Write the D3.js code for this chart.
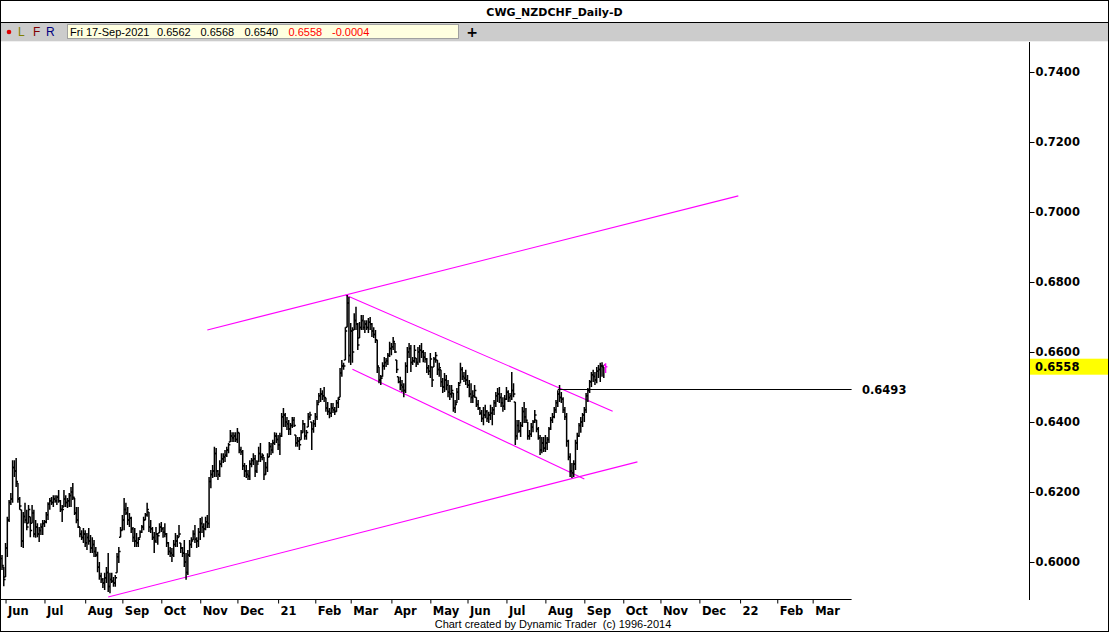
<!DOCTYPE html>
<html><head><meta charset="utf-8">
<script src="https://cdn.jsdelivr.net/npm/d3@7"></script>
<style>
body{margin:0;background:#fff;}
svg{display:block;}
text{white-space:pre;}
</style>
</head><body>
<svg id="c" width="1109" height="632"></svg>
<script>
// ---------------- DATA ----------------
const title = "CWG_NZDCHF_Daily-D";
const firstDate = "2020-05-28";   // first daily bar
const axisEndDate = "2022-03-31"; // end of time axis (future space)
// Prices in units of 0.0001 (pips)
const high = [
6020,5986,6054,6129,6177,6197,6291,6291,6297,6226,
6186,6149,6143,6169,6149,6163,6129,6163,6149,6120,
6111,6100,6111,6120,6120,6143,6171,6183,6186,6191,
6191,6191,6206,6177,6163,6206,6191,6183,6197,6214,
6226,6183,6157,6157,6100,6091,6097,6091,6083,6097,
6077,6071,6063,6043,6029,6000,5969,5954,5969,5986,
6026,5969,5969,5957,5963,6026,6043,6100,6134,6183,
6169,6157,6140,6129,6100,6097,6083,6071,6091,6106,
6129,6140,6169,6143,6120,6100,6086,6100,6083,6111,
6114,6100,6111,6083,6057,6043,6040,6063,6083,6077,
6106,6054,6043,6063,6026,6034,6063,6071,6091,6106,
6071,6097,6126,6129,6111,6129,6134,6243,6263,6277,
6329,6326,6263,6291,6311,6311,6320,6329,6340,6377,
6371,6371,6371,6383,6369,6329,6320,6283,6277,6263,
6291,6297,6311,6306,6291,6329,6340,6311,6300,6286,
6311,6343,6340,6349,6371,6369,6363,6369,6426,6440,
6426,6414,6406,6397,6414,6414,6363,6357,6357,6377,
6406,6397,6377,6426,6429,6400,6406,6426,6463,6483,
6497,6491,6500,6469,6457,6440,6454,6454,6443,6463,
6471,6554,6577,6569,6671,6763,6757,6683,6671,6711,
6729,6683,6686,6706,6706,6691,6691,6697,6700,6683,
6671,6663,6634,6557,6534,6571,6586,6583,6597,6629,
6626,6643,6626,6577,6529,6529,6520,6511,6571,6614,
6626,6620,6586,6620,6583,6614,6620,6626,6606,6600,
6583,6563,6597,6557,6586,6600,6577,6569,6549,6526,
6540,6534,6520,6506,6506,6483,6463,6497,6514,6569,
6557,6543,6549,6534,6520,6511,6491,6506,6471,6463,
6443,6434,6443,6449,6434,6429,6449,6443,6463,6486,
6497,6500,6483,6471,6477,6500,6491,6483,6543,6511,
6457,6406,6406,6400,6443,6457,6440,6400,6377,6397,
6406,6434,6406,6386,6363,6357,6357,6363,6357,6386,
6414,6426,6443,6463,6491,6506,6486,6471,6443,6426,
6349,6311,6283,6291,6349,6369,6397,6414,6426,6443,
6483,6497,6520,6543,6549,6543,6557,6563,6569,6571,
6557,6568];
const low = [
5977,5931,5957,6014,6114,6163,6169,6243,6214,6169,
6149,6043,6040,6111,6091,6111,6071,6111,6071,6069,
6071,6057,6077,6077,6100,6111,6120,6149,6163,6157,
6169,6163,6169,6143,6114,6157,6157,6154,6157,6157,
6177,6134,6111,6097,6071,6063,6054,6043,6034,6049,
6026,6026,6014,6014,5971,5949,5940,5926,5920,5940,
5914,5911,5940,5929,5929,5969,5997,6071,6091,6091,
6134,6106,6100,6083,6057,6043,6043,6043,6069,6083,
6091,6120,6129,6086,6083,6063,6026,6054,6049,6083,
6086,6069,6071,6043,6020,6014,6000,6014,6043,6043,
6071,6026,6014,5986,5949,5963,6014,6040,6063,6054,
6040,6043,6063,6083,6071,6091,6097,6097,6211,6240,
6243,6243,6234,6243,6271,6283,6286,6300,6311,6343,
6343,6343,6343,6340,6311,6306,6263,6243,6240,6234,
6234,6271,6277,6243,6254,6286,6286,6291,6234,6249,
6257,6300,6306,6311,6334,6340,6320,6306,6357,6386,
6386,6377,6363,6363,6383,6386,6329,6329,6320,6349,
6369,6349,6349,6386,6406,6320,6369,6386,6406,6454,
6457,6463,6457,6429,6420,6411,6414,6426,6420,6429,
6440,6471,6529,6549,6577,6671,6569,6563,6569,6663,
6663,6606,6640,6663,6663,6654,6663,6654,6663,6643,
6640,6626,6540,6511,6506,6529,6549,6557,6563,6586,
6591,6606,6597,6540,6511,6491,6486,6471,6483,6540,
6583,6543,6563,6569,6557,6563,6569,6583,6571,6569,
6540,6534,6526,6500,6557,6569,6534,6529,6500,6483,
6486,6491,6471,6463,6469,6429,6426,6454,6463,6511,
6520,6514,6506,6497,6471,6454,6454,6469,6443,6434,
6420,6400,6391,6411,6400,6397,6406,6391,6420,6443,
6457,6454,6443,6429,6434,6463,6457,6457,6463,6471,
6334,6349,6369,6357,6386,6397,6397,6349,6349,6357,
6371,6397,6371,6349,6306,6311,6314,6314,6320,6340,
6377,6397,6411,6426,6443,6457,6454,6426,6406,6329,
6291,6243,6240,6243,6263,6320,6357,6369,6386,6400,
6426,6457,6483,6500,6514,6506,6511,6526,6514,6529,
6526,6540];
const open = [
6010,5986,5957,6040,6120,6170,6180,6270,6260,6226,
6180,6149,6060,6130,6120,6111,6129,6111,6140,6080,
6100,6080,6090,6100,6110,6115,6135,6165,6175,6170,
6180,6175,6185,6175,6150,6157,6180,6170,6175,6190,
6200,6183,6140,6120,6100,6080,6070,6080,6055,6070,
6060,6040,6050,6030,6020,5985,5960,5950,5940,5955,
5970,5930,5950,5945,5940,5969,6015,6071,6091,6120,
6150,6140,6120,6125,6095,6070,6060,6055,6069,6085,
6100,6120,6135,6143,6100,6095,6070,6060,6080,6083,
6100,6095,6085,6080,6055,6030,6025,6020,6050,6060,
6071,6054,6040,6025,6000,5970,6020,6050,6063,6080,
6065,6060,6085,6110,6100,6095,6115,6110,6230,6250,
6260,6310,6260,6250,6280,6295,6300,6305,6320,6343,
6360,6355,6360,6350,6369,6320,6315,6275,6260,6250,
6245,6280,6290,6295,6260,6286,6310,6300,6300,6250,
6270,6300,6330,6320,6340,6360,6350,6335,6360,6415,
6420,6400,6395,6380,6390,6405,6363,6340,6345,6349,
6370,6395,6360,6386,6415,6400,6380,6395,6415,6454,
6475,6480,6475,6469,6440,6430,6425,6440,6435,6430,
6455,6471,6540,6560,6577,6671,6740,6590,6660,6663,
6690,6680,6640,6670,6690,6670,6680,6670,6685,6680,
6660,6650,6634,6557,6520,6529,6560,6570,6575,6590,
6610,6615,6626,6577,6529,6515,6505,6500,6490,6560,
6600,6610,6570,6575,6583,6570,6600,6605,6600,6585,
6580,6555,6545,6557,6557,6580,6577,6550,6549,6515,
6500,6520,6505,6485,6480,6483,6440,6454,6485,6511,
6550,6530,6525,6520,6505,6480,6470,6475,6471,6450,
6440,6425,6410,6420,6430,6410,6420,6425,6435,6455,
6475,6480,6470,6455,6445,6465,6485,6470,6475,6490,
6457,6360,6390,6375,6390,6430,6415,6400,6360,6365,
6385,6400,6406,6380,6355,6320,6340,6325,6340,6350,
6380,6405,6415,6435,6455,6480,6470,6465,6435,6415,
6345,6300,6260,6255,6280,6340,6360,6390,6400,6420,
6435,6475,6490,6515,6535,6530,6520,6545,6550,6560,
6557,6562];
const close = [
5990,5950,6040,6120,6170,6180,6270,6260,6230,6180,
6160,6060,6130,6120,6100,6150,6090,6140,6080,6100,
6080,6090,6100,6110,6115,6135,6165,6175,6170,6180,
6175,6185,6175,6150,6150,6180,6170,6175,6190,6200,
6185,6140,6120,6100,6080,6070,6080,6055,6070,6060,
6040,6050,6030,6020,5985,5960,5950,5940,5955,5970,
5930,5950,5945,5940,5955,6015,6030,6090,6120,6150,
6140,6120,6125,6095,6070,6060,6055,6065,6085,6100,
6120,6135,6150,6100,6095,6070,6060,6080,6075,6100,
6095,6085,6080,6055,6030,6025,6020,6050,6060,6070,
6080,6040,6025,6000,5970,6020,6050,6060,6080,6065,
6060,6085,6110,6100,6095,6115,6110,6230,6250,6260,
6310,6260,6250,6280,6295,6300,6305,6320,6335,6360,
6355,6360,6350,6370,6320,6315,6275,6260,6250,6245,
6280,6290,6295,6260,6280,6310,6300,6305,6250,6270,
6300,6330,6320,6340,6360,6350,6335,6360,6415,6420,
6400,6395,6380,6390,6405,6390,6340,6345,6335,6370,
6395,6360,6370,6415,6420,6380,6395,6415,6450,6475,
6480,6475,6470,6440,6430,6425,6440,6435,6430,6455,
6465,6540,6560,6560,6660,6740,6590,6660,6600,6690,
6680,6620,6670,6690,6670,6680,6670,6685,6680,6660,
6650,6635,6560,6520,6525,6560,6570,6575,6590,6610,
6615,6630,6600,6550,6515,6505,6500,6490,6560,6600,
6610,6570,6575,6605,6570,6600,6605,6600,6585,6580,
6555,6545,6580,6520,6580,6590,6550,6555,6515,6500,
6520,6505,6485,6480,6490,6440,6450,6485,6505,6550,
6530,6525,6520,6505,6480,6470,6475,6490,6450,6440,
6425,6410,6420,6430,6410,6420,6425,6435,6455,6475,
6480,6470,6455,6445,6465,6485,6470,6475,6490,6480,
6360,6390,6375,6390,6430,6415,6405,6360,6365,6385,
6400,6420,6380,6355,6320,6340,6325,6340,6350,6380,
6405,6415,6435,6455,6480,6470,6465,6435,6415,6345,
6300,6260,6255,6280,6340,6360,6390,6400,6420,6435,
6475,6490,6515,6535,6530,6520,6545,6550,6560,6560,
6562,6558];

const priceTicks = [0.60, 0.62, 0.64, 0.66, 0.68, 0.70, 0.72, 0.74];
const monthLabels = ["Jun","Jul","Aug","Sep","Oct","Nov","Dec","21","Feb","Mar","Apr","May",
                     "Jun","Jul","Aug","Sep","Oct","Nov","Dec","22","Feb","Mar"];
const quoteDate = "Fri 17-Sep-2021";
const quoteValues = ["0.6562","0.6568","0.6540","0.6558","-0.0004"];
const lastPrice = 0.6558;
// trendlines: [startDate, startPrice, endDate, endPrice]
const trendLines = [
  ["2020-11-06", 0.6663, "2021-12-31", 0.7046],
  ["2020-08-20", 0.5900, "2021-10-13", 0.6286],
  ["2021-02-24", 0.6763, "2021-09-23", 0.6431],
  ["2021-03-02", 0.6551, "2021-09-01", 0.6237]
];
const levelLine = {start: "2021-08-11", price: 0.6493, label: "0.6493"};
const footer = "Chart created by Dynamic Trader  (c) 1996-2014";

// ---------------- CHART ----------------
const W = 1109, H = 632;
const svg = d3.select("#c");
const bold = "DejaVu Sans";
const plain = "Liberation Sans, Arial, sans-serif";

// calendar of weekdays
const parse = d3.utcParse("%Y-%m-%d");
const fmt = d3.utcFormat("%Y-%m-%d");
const days = d3.utcDay.range(parse(firstDate), d3.utcDay.offset(parse(axisEndDate), 1))
  .filter(d => d.getUTCDay() !== 0 && d.getUTCDay() !== 6);
const idxOf = new Map(days.map((d, i) => [fmt(d), i]));

const x = d3.scaleLinear().domain([0, days.length - 1]).range([2, 2 + (days.length - 1) * 1.77]);
const y = d3.scaleLinear().domain([0.60, 0.74]).range([562, 72]);
const P = v => v / 10000;

// background + frame
svg.append("rect").attr("width", W).attr("height", H).attr("fill", "#fff");
// toolbar
svg.append("rect").attr("x", 0).attr("y", 23).attr("width", W).attr("height", 18).attr("fill", "#cccccc");
svg.append("line").attr("x1", 0).attr("x2", W).attr("y1", 41.5).attr("y2", 41.5).attr("stroke", "#f0f0f0");
svg.append("rect").attr("x", 67.5).attr("y", 24.5).attr("width", 391).attr("height", 14)
  .attr("fill", "#ffffe0").attr("stroke", "#a0a0a0");
svg.append("line").attr("x1", 0).attr("x2", W).attr("y1", 22.5).attr("y2", 22.5).attr("stroke", "#000");

svg.append("text").attr("x", W / 2).attr("y", 16).attr("text-anchor", "middle")
  .attr("font-family", bold).attr("font-weight", "bold").attr("font-size", 11).text(title);

svg.append("circle").attr("cx", 9).attr("cy", 32).attr("r", 2.3).attr("fill", "#e00000");
[["L", 18, "#808000"], ["F", 33, "#800000"], ["R", 46, "#000080"]].forEach(([t, xx, c]) =>
  svg.append("text").attr("x", xx).attr("y", 36).attr("font-family", plain).attr("font-size", 12)
    .attr("fill", c).text(t));
const qx = [157, 200.5, 244.5, 288.5, 332];
svg.append("text").attr("x", 70).attr("y", 35.5).attr("font-family", plain).attr("font-size", 11).text(quoteDate);
quoteValues.forEach((v, i) => svg.append("text").attr("x", qx[i]).attr("y", 35.5)
  .attr("font-family", plain).attr("font-size", 11).attr("fill", i >= 3 ? "#ff0000" : "#000").text(v));
svg.append("text").attr("x", 472).attr("y", 37).attr("text-anchor", "middle")
  .attr("font-family", bold).attr("font-weight", "bold").attr("font-size", 14).text("+");

// panel separators
svg.append("line").attr("x1", 1029.5).attr("x2", 1029.5).attr("y1", 42).attr("y2", 600).attr("stroke", "#000");
svg.append("rect").attr("x", 0.5).attr("y", 0.5).attr("width", W - 1).attr("height", H - 1)
  .attr("fill", "none").attr("stroke", "#000");

// clip for plot
svg.append("clipPath").attr("id", "pc").append("rect").attr("x", 1).attr("y", 42).attr("width", 1028).attr("height", 557);
const plot = svg.append("g").attr("clip-path", "url(#pc)");

// trendlines
plot.selectAll("line.tl").data(trendLines).join("line").attr("class", "tl")
  .attr("x1", d => x(idxOf.get(d[0]))).attr("y1", d => y(d[1]))
  .attr("x2", d => x(idxOf.get(d[2]))).attr("y2", d => y(d[3]))
  .attr("stroke", "#ff00ff").attr("stroke-width", 1.1);

// level line
plot.append("line").attr("x1", x(idxOf.get(levelLine.start))).attr("x2", x(days.length - 1))
  .attr("y1", Math.round(y(levelLine.price)) + 0.5).attr("y2", Math.round(y(levelLine.price)) + 0.5)
  .attr("stroke", "#000");
svg.append("text").attr("x", 862).attr("y", y(levelLine.price) + 4.5)
  .attr("font-family", bold).attr("font-weight", "bold").attr("font-size", 11.5).text(levelLine.label);

// OHLC bars
const n = high.length;
const bars = d3.range(n);
plot.selectAll("path.bar").data(bars).join("path").attr("class", "bar")
  .attr("d", i => {
    const xi = x(i);
    return `M${xi},${y(P(high[i]))}V${y(P(low[i]))}` +
      `M${xi - 1.6},${y(P(open[i]))}H${xi}` +
      `M${xi},${y(P(close[i]))}H${xi + 1.8}`;
  })
  .attr("fill", "none").attr("stroke", i => i === n - 1 ? "#ff00ff" : "#000").attr("stroke-width", 1.5);

// price axis
const yAxis = svg.append("g").attr("transform", "translate(1029.5,0)")
  .call(d3.axisRight(y).tickValues(priceTicks).tickFormat(d3.format(".4f")).tickSize(5).tickPadding(1));
yAxis.select(".domain").remove();
yAxis.selectAll("text").attr("font-family", bold).attr("font-weight", "bold").attr("font-size", 11.5).attr("fill", "#000");
yAxis.selectAll("line").attr("stroke", "#000");

// last price marker
svg.append("rect").attr("x", 1030).attr("y", y(lastPrice) - 8).attr("width", 78).attr("height", 16).attr("fill", "#ffff00");
svg.append("text").attr("x", 1035).attr("y", y(lastPrice) + 4.5)
  .attr("font-family", bold).attr("font-weight", "bold").attr("font-size", 11.5).text(d3.format(".4f")(lastPrice));

// time axis
const monthStarts = [];
days.forEach((d, i) => { if (i > 0 && d.getUTCMonth() !== days[i - 1].getUTCMonth()) monthStarts.push(i); });
const xAxis = svg.append("g").attr("transform", "translate(0,599.5)")
  .call(d3.axisBottom(x).tickValues(monthStarts).tickFormat((d, i) => monthLabels[i]).tickSize(4).tickPadding(3).tickSizeOuter(0));
xAxis.select(".domain").attr("d", `M0,0H${x(days.length - 1)}`);
xAxis.selectAll("text").attr("text-anchor", "start").attr("dx", 2)
  .attr("font-family", bold).attr("font-weight", "bold").attr("font-size", 11.5).attr("fill", "#000");
xAxis.selectAll("line").attr("stroke", "#000");

svg.append("text").attr("x", 553).attr("y", 628).attr("text-anchor", "middle")
  .attr("font-family", plain).attr("font-size", 11).text(footer);
</script>
</body></html>
